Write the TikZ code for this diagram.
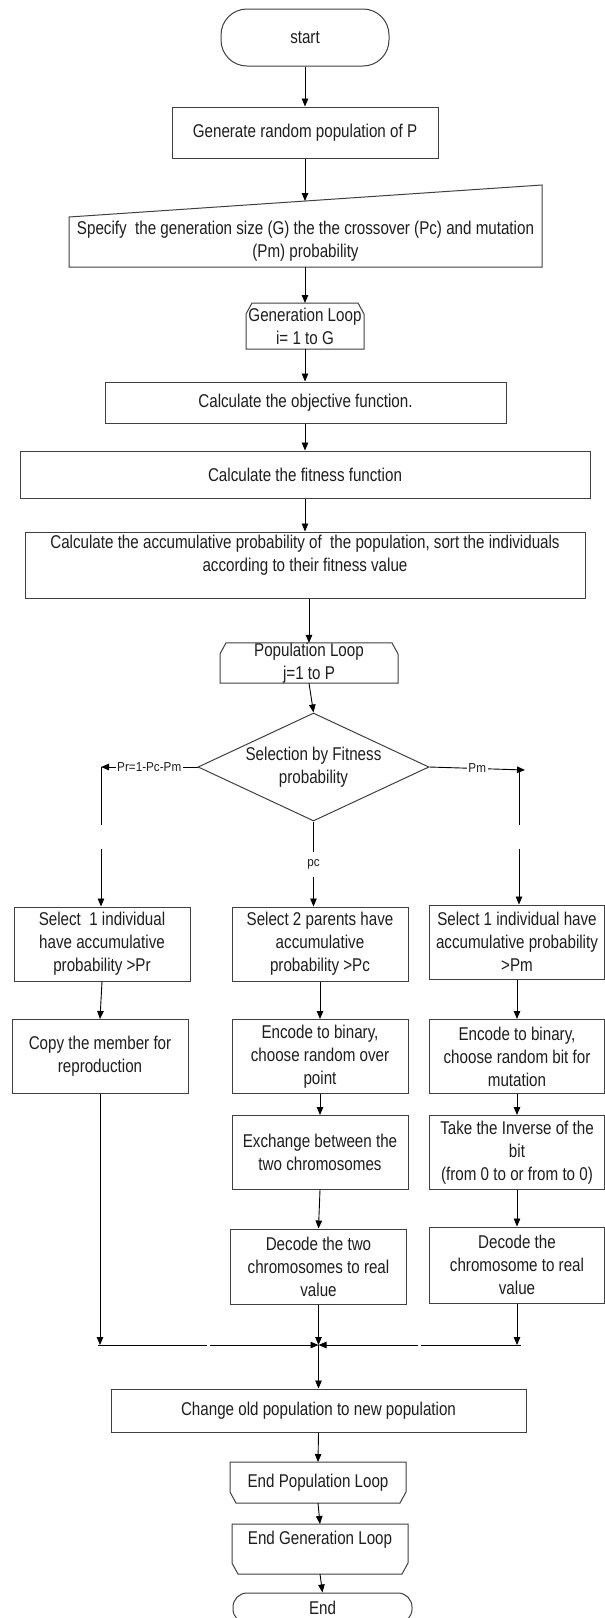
\documentclass[tikz,border=0pt]{standalone}
\usepackage{fontspec}
\setmainfont{Liberation Sans}[FakeStretch=0.82]
\newfontfamily\lblfont{Liberation Sans}[FakeStretch=0.9]
\usetikzlibrary{arrows.meta,shapes.geometric,calc}
\definecolor{edgec}{HTML}{404040}
\definecolor{txtc}{HTML}{1E1E1E}
\newcommand\mainsz{\fontsize{18.5pt}{23pt}\selectfont}
\newcommand\loopTop[1]{\draw[shp] (#1.south west) -- ([yshift=-11pt]#1.north west) -- ([xshift=6pt]#1.north west) -- ([xshift=-6pt]#1.north east) -- ([yshift=-11pt]#1.north east) -- (#1.south east) -- cycle;}
\newcommand\loopBot[1]{\draw[shp] (#1.north west) -- ([yshift=11pt]#1.south west) -- ([xshift=6pt]#1.south west) -- ([xshift=-6pt]#1.south east) -- ([yshift=11pt]#1.south east) -- (#1.north east) -- cycle;}
\begin{document}
\begin{tikzpicture}[x=1pt,y=-1pt,
  box/.style={draw=edgec, line width=1pt, text=txtc, font=\mainsz, align=center, inner sep=1pt},
  cbox/.style={box, minimum width=176pt, minimum height=74pt},
  lp/.style={text=txtc, font=\mainsz, align=center, inner sep=0pt, outer sep=0pt},
  shp/.style={draw=edgec, line width=1pt},
  arr/.style={draw=black, line width=0.9pt, -{Triangle[length=8pt,width=6.5pt]}},
  lbl/.style={fill=white, font=\lblfont\fontsize{13pt}{15pt}\selectfont, text=txtc, inner sep=1.5pt},
  gapn/.style={fill=white, inner sep=0pt, minimum width=4pt, minimum height=24pt},
  hgap/.style={fill=white, inner sep=0pt, minimum width=3pt, minimum height=4pt}]
\useasboundingbox (0,0) rectangle (605,1618);
\fill[white] (0,0) rectangle (605,1618);

% top part
\node[box, rounded corners=26pt, minimum width=168pt, minimum height=57pt] (start) at (305,37.5) {start};
\node[box, minimum width=266pt, minimum height=51pt] (gen) at (305,132.5) {Generate random population of P};
\draw[shp] (69,267) -- (69,217) -- (542,185) -- (542,267) -- cycle;
\node[lp] (spec) at (305.5,241.5) {Specify~ the generation size (G) the the crossover (Pc) and mutation\\(Pm) probability};
\coordinate (spectop) at (305,201);
\coordinate (specbot) at (305,267);
\node[lp, minimum width=118pt, minimum height=46pt] (gloop) at (305,326) {Generation Loop\\i= 1 to G};
\loopTop{gloop}
\node[box, minimum width=401pt, minimum height=41pt] (obj) at (305.5,402.5) {Calculate the objective function.};
\node[box, minimum width=570pt, minimum height=47pt] (fit) at (305,474.5) {Calculate the fitness function};
\node[box, minimum width=560pt, minimum height=66pt] (acc) at (305,565) {Calculate the accumulative probability of~ the population, sort the individuals\\according to their fitness value\\\mbox{}};
\node[lp, minimum width=178pt, minimum height=40pt] (pop) at (309,663) {Population Loop\\j=1 to P};
\loopTop{pop}
\node[box, diamond, aspect=2.14, minimum width=231pt, minimum height=108pt, inner sep=0pt] (dia) at (313.5,767) {Selection by Fitness\\probability};

\draw[arr] (start.south) -- (gen.north);
\draw[arr] (gen.south) -- (spectop);
\draw[arr] (specbot) -- (gloop.north);
\draw[arr] (gloop.south) -- (gloop.south |- obj.north);
\draw[arr] (obj.south -| gloop.south) -- (gloop.south |- fit.north);
\draw[arr] (fit.south -| gloop.south) -- (gloop.south |- acc.north);
\draw[arr] (pop.north |- acc.south) -- (pop.north);
\draw[arr] (pop.south) -- (dia.north);

% columns
\node[cbox] (lb1) at (102,944) {Select~ 1 individual\\have accumulative\\probability >Pr};
\node[cbox] (lb2) at (100,1056.5) {Copy the member for\\reproduction};
\node[cbox] (mb1) at (320,944) {Select 2 parents have\\accumulative\\probability >Pc};
\node[cbox] (mb2) at (320,1056.5) {Encode to binary,\\choose random over\\point};
\node[cbox] (mb3) at (320,1152.5) {Exchange between the\\two chromosomes};
\node[cbox, minimum height=75pt] (mb4) at (318.5,1266.5) {Decode the two\\chromosomes to real\\value};
\node[cbox, minimum width=175pt] (rb1) at (517,942) {Select 1 individual have\\accumulative probability\\>Pm};
\node[cbox, minimum width=175pt] (rb2) at (517,1056.5) {Encode to binary,\\choose random bit for\\mutation};
\node[cbox, minimum width=175pt] (rb3) at (517,1152.5) {Take the Inverse of the\\bit\\(from 0 to or from to 0)};
\node[cbox, minimum width=175pt, minimum height=76pt] (rb4) at (517,1265) {Decode the\\chromosome to real\\value};

% branches
\coordinate (cl) at (101,767);
\coordinate (crt) at (525,770);
\coordinate (cr) at (519,770);
\draw[arr] (dia.west) -- node[lbl] {Pr=1-Pc-Pm} (cl);
\draw[arr] (cl) -- node[gapn] {} (cl |- lb1.north);
\draw[arr] (dia.east) -- node[lbl] {Pm} (crt);
\draw[arr] (cr) -- node[gapn] {} (cr |- rb1.north);
\draw[arr] (dia.south) -- node[lbl, minimum height=25pt] {pc} (dia.south |- mb1.north);

\draw[arr] (lb1.south) -- (lb2.north);
\draw[arr] (mb1.south) -- (mb2.north);
\draw[arr] (mb2.south) -- (mb3.north);
\draw[arr] (mb3.south) -- (mb4.north);
\draw[arr] (rb1.south) -- (rb2.north);
\draw[arr] (rb2.south) -- (rb3.north);
\draw[arr] (rb3.south) -- (rb4.north);

% merge
\coordinate (jn) at (318.5,1345);
\coordinate (jl) at (98,1345);
\coordinate (jr) at (521,1345);
\draw[arr] (lb2.south) -- (lb2.south |- jn);
\draw[arr] (rb4.south) -- (rb4.south |- jn);
\draw[arr] (mb4.south) -- (jn);
\draw[arr] (jl) -- node[hgap] {} (jn);
\draw[arr] (jr) -- node[hgap] {} (jn);

% bottom part
\node[box, minimum width=415pt, minimum height=43pt] (chg) at (318.5,1410.5) {Change old population to new population};
\node[lp, minimum width=176pt, minimum height=41pt] (epl) at (318,1482.5) {End Population Loop};
\loopBot{epl}
\node[lp, minimum width=176pt, minimum height=50pt] (egl) at (320,1549) {End Generation Loop\\\mbox{}};
\loopBot{egl}
\node[box, rounded corners=14pt, minimum width=179pt, minimum height=30pt] (end) at (322.5,1608) {End};

\draw[arr] (jn) -- (chg.north);
\draw[arr] (chg.south) -- (epl.north);
\draw[arr] (epl.south) -- (egl.north);
\draw[arr] (egl.south) -- (end.north);
\end{tikzpicture}
\end{document}
